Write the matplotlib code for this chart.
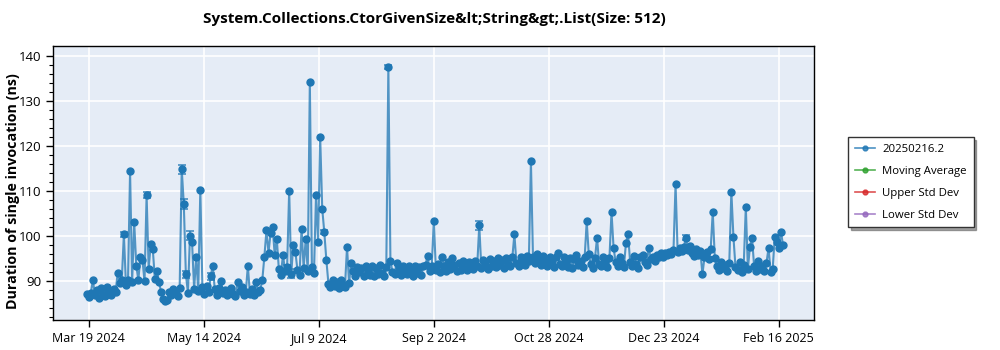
import numpy as np
import pandas as pd
import matplotlib
matplotlib.use("Agg")
import matplotlib.pyplot as plt
from matplotlib.lines import Line2D

plt.rcParams['font.family'] = ['Open Sans', 'DejaVu Sans']

# Daily duration values (ns), starting 2024-03-18
first_day = "2024-03-18"
durations = [
    87.0, 86.4, 87.3, 90.2, 86.8, 87.9, 86.3, 88.4, 87.1, 86.6,
    88.7, 87.4, 86.9, 88.1, 87.5, 91.8, 89.6, 90.3, 100.3, 89.2,
    90.1, 114.3, 89.8, 103.0, 93.4, 90.2, 95.2, 94.6, 89.9, 109.0,
    92.7, 98.2, 97.0, 90.4, 92.2, 89.8, 87.5, 86.0, 85.5, 85.8,
    87.6, 86.9, 88.3, 87.2, 86.7, 88.5, 114.8, 107.1, 91.5, 87.4,
    100.0, 98.6, 88.2, 95.3, 87.8, 110.2, 88.6, 87.1, 88.9, 87.5,
    91.0, 93.4, 88.1, 86.9, 88.4, 89.9, 87.3, 88.0, 86.8, 87.9,
    88.5, 87.2, 86.6, 89.7, 87.8, 88.7, 86.9, 87.5, 93.3, 87.2,
    88.3, 86.8, 89.7, 87.6, 88.0, 90.2, 95.4, 101.2, 96.3, 100.6,
    101.9, 95.8, 99.4, 92.6, 91.4, 95.8, 92.2, 93.1, 110.0, 91.6,
    98.0, 96.5, 92.4, 91.3, 101.6, 92.8, 99.3, 92.1, 134.2, 93.0,
    91.8, 109.0, 98.7, 122.0, 106.0, 100.8, 94.6, 89.4, 88.6, 90.1,
    88.8, 89.7, 88.5, 90.2, 89.1, 88.7, 97.5, 89.5, 94.0, 92.3,
    91.2, 93.1, 91.9, 92.8, 91.0, 93.4, 92.1, 91.4, 93.2, 91.1,
    92.9, 91.5, 93.5, 91.8, 91.2, 93.0, 137.5, 94.5, 92.0, 91.6,
    94.0, 92.8, 91.3, 93.4, 91.9, 91.5, 93.2, 92.1, 91.2, 93.3,
    91.8, 93.0, 91.4, 93.2, 93.6, 95.6, 92.1, 93.3, 103.2, 92.5,
    93.8, 91.9, 95.2, 93.4, 92.3, 94.1, 92.6, 95.0, 93.6, 92.2,
    94.0, 92.5, 94.4, 92.9, 92.4, 94.2, 93.1, 92.6, 94.5, 93.3,
    102.3, 92.8, 94.7, 93.5, 92.7, 94.9, 93.2, 94.4, 93.0, 95.1,
    93.6, 94.7, 92.9, 95.0, 93.7, 93.3, 95.2, 100.3, 93.9, 93.4,
    95.4, 94.2, 93.6, 95.6, 94.5, 116.5, 95.3, 94.0, 95.9, 94.4,
    93.5, 95.5, 94.3, 93.3, 95.3, 94.1, 93.1, 95.2, 96.1, 93.8,
    93.2, 95.4, 94.0, 93.0, 95.1, 92.9, 94.8, 95.7, 93.5, 94.5,
    93.1, 95.2, 103.2, 95.9, 93.7, 92.9, 95.0, 99.6, 93.8, 93.2,
    95.3, 94.0, 93.0, 95.1, 105.3, 97.3, 94.2, 93.3, 95.4, 93.9,
    93.1, 98.5, 100.4, 94.3, 93.4, 95.5, 93.7, 92.9, 95.2, 95.8,
    94.2, 93.6, 97.4, 94.8, 95.3, 94.5, 95.8, 95.2, 96.1, 95.4,
    96.3, 95.7, 96.5, 96.0, 96.8, 111.5, 96.4, 97.2, 96.6, 97.5,
    99.6, 96.9, 97.8, 96.2, 95.5, 97.0, 95.8, 96.6, 91.5, 95.2,
    96.4, 94.8, 97.1, 105.3, 95.0, 93.2, 92.4, 94.1, 92.8, 93.5,
    92.2, 94.0, 109.8, 99.8, 93.1, 92.5, 94.3, 92.0, 93.6, 106.4,
    92.7, 97.6, 99.6, 93.4, 92.1, 94.5, 92.6, 93.2, 92.3, 94.0,
    97.3, 92.0, 92.6, 99.8, 98.6, 97.2, 100.9, 98.0,
]

# Runs with a visible error bar
err_dates = ["2024-04-05", "2024-04-09", "2024-04-16", "2024-05-03", "2024-05-04",
             "2024-05-05", "2024-05-07", "2024-05-17", "2024-06-23", "2024-06-25",
             "2024-07-11", "2024-08-11", "2024-09-24", "2025-01-02"]
err_sizes = [0.6, 0.4, 0.7, 1.0, 1.1, 0.8, 1.0, 0.8, 0.4, 1.0, 0.5, 0.5, 0.9, 0.6]

tick_labels = ["Mar 19 2024", "May 14 2024", "Jul 9 2024", "Sep 2 2024",
               "Oct 28 2024", "Dec 23 2024", "Feb 16 2025"]

dates = pd.date_range(first_day, periods=len(durations), freq="D")
series = pd.Series(durations, index=dates)
err_idx = pd.to_datetime(err_dates)

blue = '#1f77b4'
fig = plt.figure(figsize=(10, 3.5), dpi=100)
ax = fig.add_axes([0.053, 0.086, 0.761, 0.783])
ax.set_facecolor('#E5ECF6')

ax.plot(series.index, series.values, color=blue, lw=1.5, alpha=0.75, zorder=2)
ax.plot(series.index, series.values, ls='none', marker='o', ms=5,
        color=blue, zorder=3)
ax.errorbar(err_idx, series.loc[err_idx].values, yerr=err_sizes, fmt='none',
            ecolor=blue, elinewidth=1.2, capsize=3, capthick=1.2, alpha=0.8, zorder=3)

# axis setup
t0 = pd.Timestamp("2024-03-19")
t1 = pd.Timestamp("2025-02-16")
tick_pos = [t0 + (t1 - t0) * k / 6 for k in range(7)]
ax.set_xticks(tick_pos)
ax.set_xticklabels(tick_labels, fontsize=9)
ax.set_xlim(t0 - pd.Timedelta(days=17.3), t1 + pd.Timedelta(days=17))

ax.set_ylim(81.35, 142.15)
ax.set_yticks(np.arange(90, 141, 10))
ax.set_yticks(np.arange(82, 142, 2), minor=True)
ax.tick_params(axis='y', labelsize=9.5, length=5, width=1, direction='out')
ax.tick_params(axis='y', which='minor', length=3, width=0.8)
ax.tick_params(axis='x', length=5, width=1)
ax.grid(True, color='white', lw=1.2, zorder=0)
ax.set_axisbelow(True)
for s in ax.spines.values():
    s.set_color('black')
    s.set_linewidth(1)

fig.text(0.434, 0.946, "System.Collections.CtorGivenSize&lt;String&gt;.List(Size: 512)",
         ha='center', va='center', fontsize=11, fontweight='bold')
fig.text(0.013, 0.453, "Duration of single invocation (ns)", rotation=90,
         ha='center', va='center', fontsize=10.3, fontweight='bold')

handles = [
    Line2D([], [], color=blue, marker='o', ms=3.5, lw=1.2, alpha=0.8, label='20250216.2'),
    Line2D([], [], color='#2ca02c', marker='o', ms=3.5, lw=1.2, alpha=0.8, label='Moving Average'),
    Line2D([], [], color='#d62728', marker='o', ms=3.5, lw=1.2, alpha=0.8, label='Upper Std Dev'),
    Line2D([], [], color='#9467bd', marker='o', ms=3.5, lw=1.2, alpha=0.8, label='Lower Std Dev'),
]
leg = fig.legend(handles=handles, loc='center left', bbox_to_anchor=(0.848, 0.479),
                 borderaxespad=0, fancybox=False, shadow=True, framealpha=1,
                 edgecolor='#333333', fontsize=8.2, handlelength=1.8,
                 handletextpad=0.6, labelspacing=0.95, borderpad=0.6)
leg.get_frame().set_linewidth(1)

fig.savefig('out.png', dpi=100)
